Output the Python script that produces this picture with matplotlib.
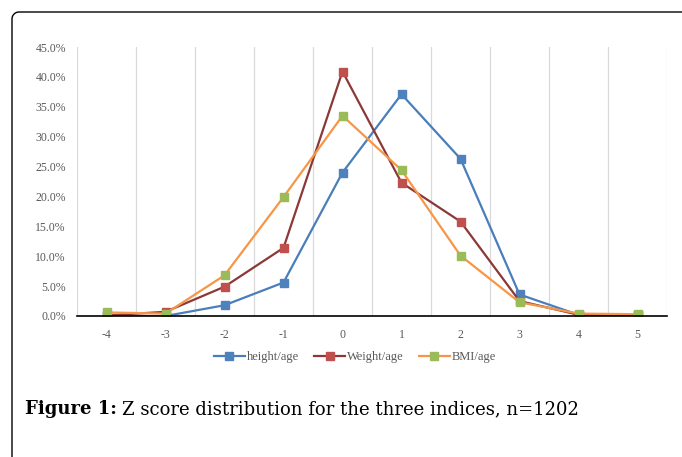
import matplotlib
matplotlib.use("Agg")
import numpy as np
import matplotlib.pyplot as plt
from matplotlib.lines import Line2D
from matplotlib.ticker import FixedLocator, FuncFormatter

z_scores = ["-4", "-3", "-2", "-1", "0", "1", "2", "3", "4", "5"]
height_age = [0.0, 0.0, 1.8, 5.6, 24.0, 37.1, 26.3, 3.6, 0.2, 0.1]
weight_age = [0.1, 0.7, 4.9, 11.4, 40.9, 22.3, 15.8, 2.5, 0.2, 0.1]
bmi_age = [0.6, 0.4, 6.8, 19.9, 33.5, 24.4, 10.1, 2.3, 0.4, 0.3]

series = [
    ("height/age", height_age, "#4a7ebb", "#4f81bd"),
    ("Weight/age", weight_age, "#8c3836", "#c0504d"),
    ("BMI/age", bmi_age, "#f79646", "#9bbb59"),
]

serif = ["Liberation Serif", "DejaVu Serif"]
grey = "#595959"
W, H = 682, 457

fig = plt.figure(figsize=(W / 100, H / 100), dpi=100)
ax = fig.add_axes([77 / W, 1 - 316 / H, 590 / W, 269 / H])

x = list(range(len(z_scores)))
for name, vals, lc, mc in series:
    ax.plot(x, vals, color=lc, lw=1.6, marker="s", ms=5.2,
            markerfacecolor=mc, markeredgecolor=mc, label=name)

ax.set_xlim(-0.5, len(z_scores) - 0.5)
ax.set_ylim(0, 45)
ax.set_yticks([0, 5, 10, 15, 20, 25, 30, 35, 40, 45])
ax.yaxis.set_major_formatter(FuncFormatter(lambda v, p: f"{v:.1f}%"))
ax.set_xticks(x)
ax.set_xticklabels(z_scores)
ax.xaxis.set_minor_locator(FixedLocator([i - 0.5 for i in range(len(z_scores) + 1)]))
ax.grid(which="minor", axis="x", color="#d9d9d9", lw=0.9)
ax.tick_params(axis="both", which="both", length=0, colors=grey, labelsize=8.5)
ax.tick_params(axis="x", pad=9)
ax.tick_params(axis="y", pad=8)
for lab in ax.get_xticklabels() + ax.get_yticklabels():
    lab.set_family(serif)
for s in ["top", "right", "left"]:
    ax.spines[s].set_visible(False)
ax.spines["bottom"].set_color("black")
ax.spines["bottom"].set_linewidth(1.2)
ax.set_axisbelow(True)

leg = fig.legend(loc="center", bbox_to_anchor=(355 / W, 1 - 357 / H), ncol=3,
                 frameon=False, handlelength=2.5, handletextpad=0.15,
                 columnspacing=1.2, prop={"family": serif, "size": 9})
for t in leg.get_texts():
    t.set_color(grey)

# caption
cap_font = ["DejaVu Serif"]
bold = fig.text(25 / W, 1 - 409 / H, "Figure 1:", family=cap_font, weight="bold",
                fontsize=13, va="center", ha="left")
fig.canvas.draw()
bb = bold.get_window_extent(renderer=fig.canvas.get_renderer())
fig.text((bb.x1 + 5) / W, 1 - 409 / H, "Z score distribution for the three indices, n=1202",
         family=cap_font, fontsize=13, va="center", ha="left")

# page border: left and top edges with a rounded corner
r = 7
theta = np.linspace(np.pi, np.pi / 2, 20)
bx = [12] + list(12 + r + r * np.cos(theta)) + [W + 50]
by = [-5] + list(H - 12 - r + r * np.sin(theta)) + [H - 12]
fig.add_artist(Line2D(np.array(bx) / W, np.array(by) / H, color="black", lw=1.0,
                      transform=fig.transFigure))

fig.savefig("out.png", dpi=100)
